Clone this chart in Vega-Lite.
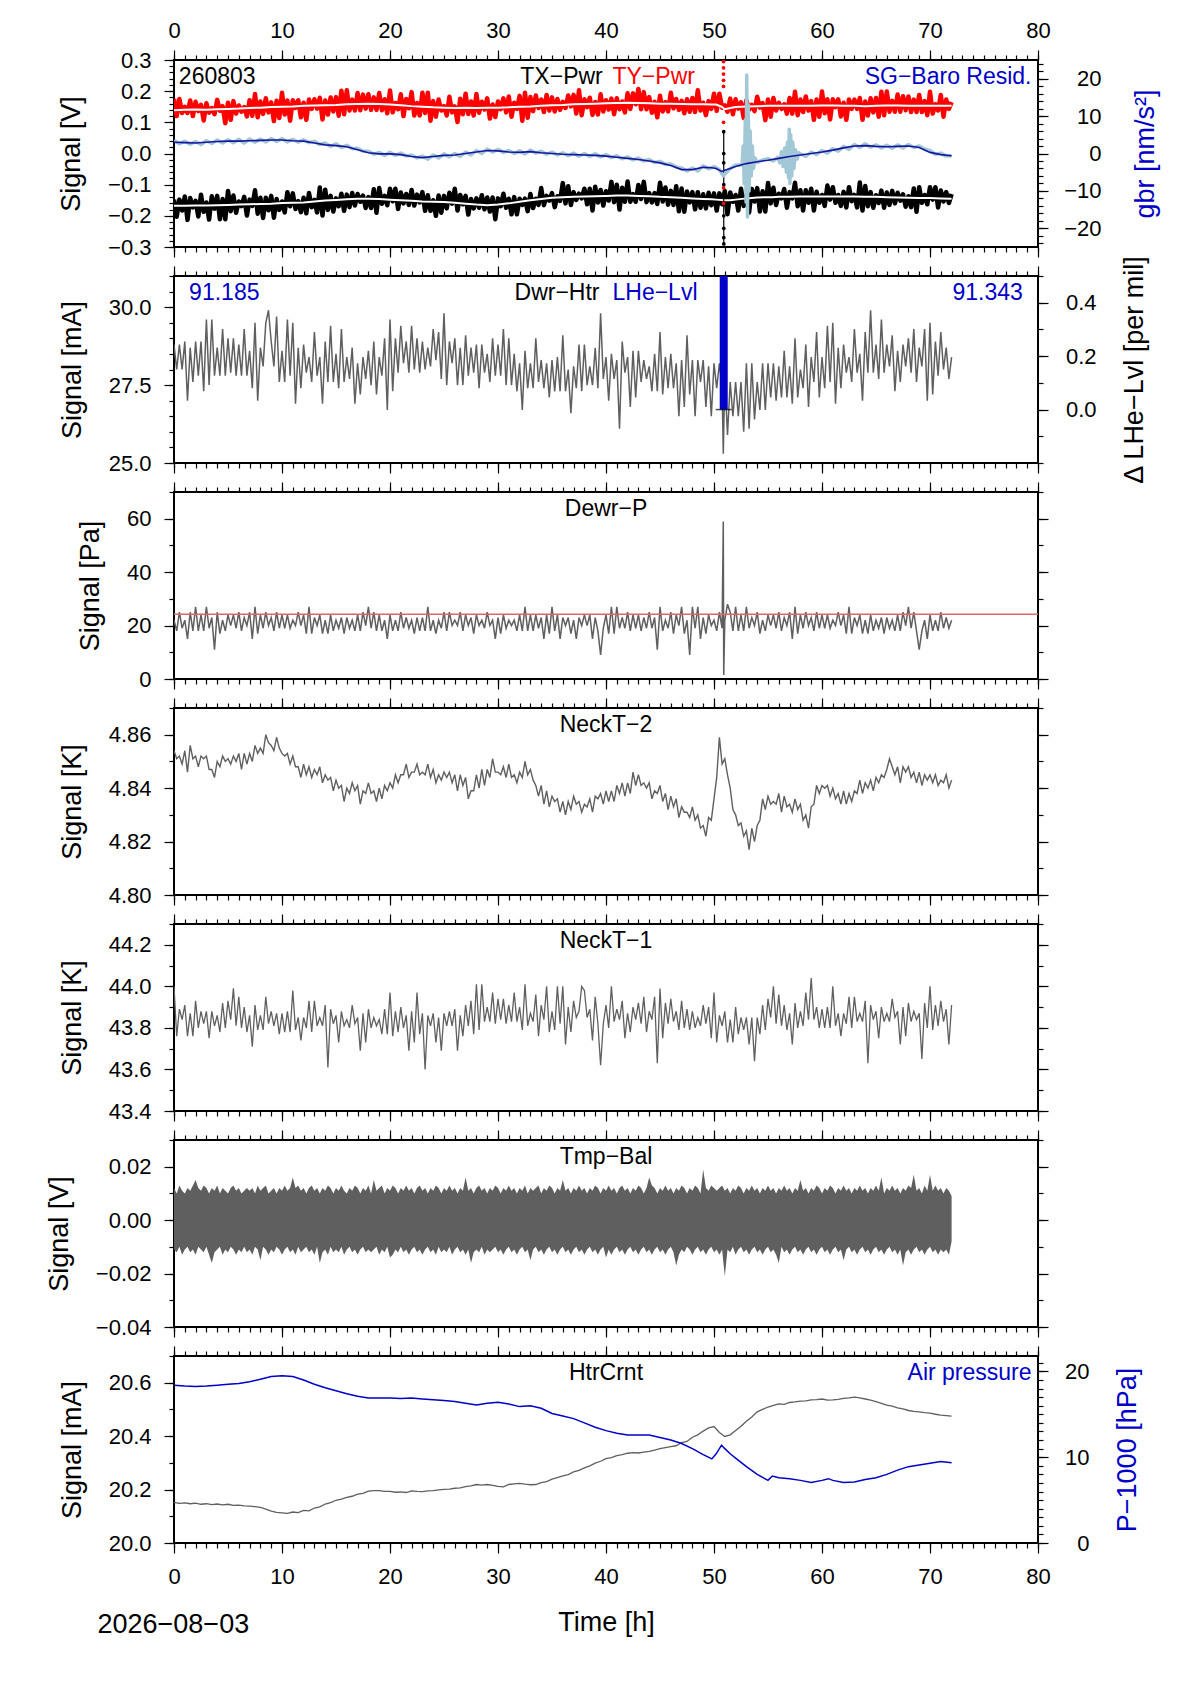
{
"$schema":"https://vega.github.io/schema/vega-lite/v6.json",
"padding":{"left":44,"top":18,"right":5,"bottom":5},
"spacing":29,
"bounds":"flush",
"datasets":{
"n":[
{"t":0,"ty":0.175,"tx":-0.148,"dh":28.8,"dp":22,"n1":44.0,"n2":4.854,"sg":3.5,"hc":20.152,"lo":-0.011,"hi":0.012},
{"t":0.25,"ty":0.12,"tx":-0.203,"dh":28.0,"dp":18,"n1":43.76,"n2":4.851,"lo":-0.012,"hi":0.01},
{"t":0.5,"ty":0.175,"tx":-0.148,"dh":28.8,"dp":25,"n1":43.89,"n2":4.852,"sg":2.6,"hc":20.148,"lo":-0.01,"hi":0.013},
{"t":0.75,"ty":0.13,"tx":-0.183,"dh":28.0,"dp":19,"n1":43.84,"n2":4.849,"lo":-0.013,"hi":0.011},
{"t":1,"ty":0.15,"tx":-0.138,"dh":28.9,"dp":22,"n1":43.91,"n2":4.854,"sg":3.3,"hc":20.15,"lo":-0.011,"hi":0.01},
{"t":1.25,"ty":0.13,"tx":-0.213,"dh":27.0,"dp":15,"n1":43.76,"n2":4.846,"lo":-0.01,"hi":0.012},
{"t":1.5,"ty":0.17,"tx":-0.143,"dh":28.7,"dp":25,"n1":43.87,"n2":4.856,"sg":2.5,"hc":20.147,"lo":-0.012,"hi":0.011},
{"t":1.75,"ty":0.12,"tx":-0.173,"dh":27.6,"dp":18,"n1":43.76,"n2":4.851,"lo":-0.011,"hi":0.013},
{"t":2,"ty":0.166,"tx":-0.152,"dh":28.9,"dp":27,"n1":43.93,"n2":4.852,"sg":3.2,"hc":20.149,"lo":-0.013,"hi":0.015},
{"t":2.25,"ty":0.136,"tx":-0.202,"dh":27.8,"dp":18,"n1":43.8,"n2":4.848,"lo":-0.01,"hi":0.012},
{"t":2.5,"ty":0.156,"tx":-0.132,"dh":28.9,"dp":24,"n1":43.88,"n2":4.852,"sg":2.4,"hc":20.145,"lo":-0.011,"hi":0.011},
{"t":2.75,"ty":0.106,"tx":-0.187,"dh":27.3,"dp":18,"n1":43.82,"n2":4.851,"lo":-0.012,"hi":0.013},
{"t":3,"ty":0.161,"tx":-0.157,"dh":29.6,"dp":27,"n1":43.88,"n2":4.852,"sg":3.4,"hc":20.147,"lo":-0.01,"hi":0.012},
{"t":3.25,"ty":0.131,"tx":-0.212,"dh":27.5,"dp":19,"n1":43.75,"n2":4.847,"lo":-0.013,"hi":0.01},
{"t":3.5,"ty":0.146,"tx":-0.137,"dh":29.6,"dp":23,"n1":43.88,"n2":4.847,"sg":2.7,"hc":20.144,"lo":-0.016,"hi":0.012},
{"t":3.75,"ty":0.126,"tx":-0.177,"dh":27.8,"dp":11,"n1":43.81,"n2":4.844,"lo":-0.012,"hi":0.011},
{"t":4,"ty":0.172,"tx":-0.136,"dh":28.7,"dp":25,"n1":43.86,"n2":4.85,"sg":3.6,"hc":20.146,"lo":-0.011,"hi":0.013},
{"t":4.25,"ty":0.137,"tx":-0.211,"dh":27.8,"dp":17,"n1":43.78,"n2":4.848,"lo":-0.01,"hi":0.01},
{"t":4.5,"ty":0.152,"tx":-0.146,"dh":29.3,"dp":22,"n1":43.92,"n2":4.852,"sg":2.8,"hc":20.143,"lo":-0.013,"hi":0.012},
{"t":4.75,"ty":0.097,"tx":-0.211,"dh":27.8,"dp":18,"n1":43.8,"n2":4.85,"lo":-0.011,"hi":0.011},
{"t":5,"ty":0.163,"tx":-0.12,"dh":29.0,"dp":24,"n1":43.93,"n2":4.851,"sg":3.7,"hc":20.145,"lo":-0.012,"hi":0.01},
{"t":5.25,"ty":0.108,"tx":-0.185,"dh":27.9,"dp":20,"n1":43.84,"n2":4.849,"lo":-0.01,"hi":0.012},
{"t":5.5,"ty":0.168,"tx":-0.135,"dh":29.0,"dp":24,"n1":43.99,"n2":4.852,"sg":2.9,"hc":20.141,"lo":-0.011,"hi":0.013},
{"t":5.75,"ty":0.128,"tx":-0.19,"dh":27.8,"dp":19,"n1":43.81,"n2":4.85,"lo":-0.013,"hi":0.011},
{"t":6,"ty":0.154,"tx":-0.154,"dh":28.8,"dp":25,"n1":43.95,"n2":4.853,"sg":3.8,"hc":20.142,"lo":-0.011,"hi":0.012},
{"t":6.25,"ty":0.134,"tx":-0.169,"dh":27.8,"dp":18,"n1":43.8,"n2":4.847,"lo":-0.012,"hi":0.01},
{"t":6.5,"ty":0.149,"tx":-0.139,"dh":29.3,"dp":23,"n1":43.9,"n2":4.853,"sg":2.8,"hc":20.139,"lo":-0.01,"hi":0.011},
{"t":6.75,"ty":0.119,"tx":-0.199,"dh":27.8,"dp":20,"n1":43.78,"n2":4.849,"lo":-0.012,"hi":0.012},
{"t":7,"ty":0.171,"tx":-0.148,"dh":28.6,"dp":25,"n1":43.86,"n2":4.853,"sg":3.9,"hc":20.138,"lo":-0.011,"hi":0.011},
{"t":7.25,"ty":0.121,"tx":-0.168,"dh":27.4,"dp":15,"n1":43.71,"n2":4.85,"lo":-0.013,"hi":0.012},
{"t":7.5,"ty":0.191,"tx":-0.118,"dh":29.5,"dp":27,"n1":43.91,"n2":4.856,"sg":3.0,"hc":20.136,"lo":-0.01,"hi":0.01},
{"t":7.75,"ty":0.116,"tx":-0.193,"dh":27.0,"dp":17,"n1":43.79,"n2":4.853,"lo":-0.011,"hi":0.013},
{"t":8,"ty":0.167,"tx":-0.142,"dh":28.7,"dp":24,"n1":43.86,"n2":4.855,"sg":3.9,"hc":20.133,"lo":-0.015,"hi":0.011},
{"t":8.25,"ty":0.127,"tx":-0.207,"dh":28.1,"dp":19,"n1":43.79,"n2":4.853,"lo":-0.01,"hi":0.012},
{"t":8.5,"ty":0.177,"tx":-0.142,"dh":29.5,"dp":25,"n1":43.95,"n2":4.86,"sg":3.1,"hc":20.127,"lo":-0.011,"hi":0.013},
{"t":8.75,"ty":0.132,"tx":-0.182,"dh":29.9,"dp":20,"n1":43.82,"n2":4.857,"lo":-0.013,"hi":0.01},
{"t":9,"ty":0.164,"tx":-0.136,"dh":28.9,"dp":23,"n1":43.88,"n2":4.856,"sg":4.0,"hc":20.119,"lo":-0.011,"hi":0.011},
{"t":9.25,"ty":0.104,"tx":-0.206,"dh":28.1,"dp":18,"n1":43.81,"n2":4.854,"lo":-0.012,"hi":0.012},
{"t":9.5,"ty":0.169,"tx":-0.146,"dh":29.7,"dp":25,"n1":43.87,"n2":4.859,"sg":3.2,"hc":20.115,"lo":-0.01,"hi":0.01},
{"t":9.75,"ty":0.114,"tx":-0.181,"dh":27.6,"dp":19,"n1":43.77,"n2":4.855,"lo":-0.011,"hi":0.012},
{"t":10,"ty":0.195,"tx":-0.154,"dh":28.6,"dp":24,"n1":43.87,"n2":4.853,"sg":4.0,"hc":20.113,"lo":-0.013,"hi":0.011},
{"t":10.25,"ty":0.125,"tx":-0.189,"dh":27.6,"dp":19,"n1":43.78,"n2":4.852,"lo":-0.011,"hi":0.013},
{"t":10.5,"ty":0.17,"tx":-0.124,"dh":29.6,"dp":24,"n1":43.88,"n2":4.853,"sg":3.1,"hc":20.111,"lo":-0.01,"hi":0.011},
{"t":10.75,"ty":0.105,"tx":-0.169,"dh":27.8,"dp":19,"n1":43.78,"n2":4.849,"lo":-0.012,"hi":0.012},
{"t":11,"ty":0.171,"tx":-0.128,"dh":29.5,"dp":22,"n1":43.98,"n2":4.852,"sg":3.8,"hc":20.116,"lo":-0.011,"hi":0.016},
{"t":11.25,"ty":0.146,"tx":-0.178,"dh":26.9,"dp":20,"n1":43.79,"n2":4.848,"lo":-0.013,"hi":0.012},
{"t":11.5,"ty":0.171,"tx":-0.153,"dh":28.7,"dp":25,"n1":43.85,"n2":4.848,"sg":3.0,"hc":20.114,"lo":-0.01,"hi":0.013},
{"t":11.75,"ty":0.116,"tx":-0.188,"dh":27.4,"dp":20,"n1":43.74,"n2":4.844,"lo":-0.012,"hi":0.011},
{"t":12,"ty":0.163,"tx":-0.142,"dh":28.8,"dp":24,"n1":43.85,"n2":4.849,"sg":3.7,"hc":20.122,"lo":-0.011,"hi":0.012},
{"t":12.25,"ty":0.108,"tx":-0.192,"dh":27.9,"dp":17,"n1":43.8,"n2":4.845,"lo":-0.01,"hi":0.01},
{"t":12.5,"ty":0.173,"tx":-0.127,"dh":28.4,"dp":27,"n1":43.93,"n2":4.848,"sg":2.9,"hc":20.12,"lo":-0.012,"hi":0.012},
{"t":12.75,"ty":0.143,"tx":-0.172,"dh":27.6,"dp":17,"n1":43.78,"n2":4.844,"lo":-0.011,"hi":0.013},
{"t":13,"ty":0.174,"tx":-0.149,"dh":29.2,"dp":23,"n1":43.93,"n2":4.847,"sg":3.3,"hc":20.131,"lo":-0.013,"hi":0.011},
{"t":13.25,"ty":0.144,"tx":-0.189,"dh":27.8,"dp":20,"n1":43.81,"n2":4.845,"lo":-0.01,"hi":0.012},
{"t":13.5,"ty":0.179,"tx":-0.109,"dh":28.4,"dp":24,"n1":43.85,"n2":4.848,"sg":2.4,"hc":20.135,"lo":-0.016,"hi":0.01},
{"t":13.75,"ty":0.109,"tx":-0.199,"dh":26.9,"dp":17,"n1":43.81,"n2":4.842,"lo":-0.012,"hi":0.012},
{"t":14,"ty":0.17,"tx":-0.116,"dh":28.9,"dp":22,"n1":43.91,"n2":4.845,"sg":2.8,"hc":20.146,"lo":-0.011,"hi":0.011},
{"t":14.25,"ty":0.125,"tx":-0.181,"dh":27.6,"dp":17,"n1":43.61,"n2":4.843,"lo":-0.013,"hi":0.013},
{"t":14.5,"ty":0.18,"tx":-0.136,"dh":29.4,"dp":24,"n1":43.89,"n2":4.844,"sg":1.9,"hc":20.151,"lo":-0.01,"hi":0.012},
{"t":14.75,"ty":0.135,"tx":-0.186,"dh":27.6,"dp":18,"n1":43.82,"n2":4.839,"lo":-0.012,"hi":0.01},
{"t":15,"ty":0.181,"tx":-0.144,"dh":28.5,"dp":22,"n1":43.86,"n2":4.843,"sg":2.6,"hc":20.16,"lo":-0.011,"hi":0.012},
{"t":15.25,"ty":0.121,"tx":-0.169,"dh":27.4,"dp":19,"n1":43.73,"n2":4.84,"lo":-0.012,"hi":0.011},
{"t":15.5,"ty":0.201,"tx":-0.129,"dh":29.3,"dp":23,"n1":43.88,"n2":4.841,"sg":1.6,"hc":20.164,"lo":-0.01,"hi":0.013},
{"t":15.75,"ty":0.126,"tx":-0.184,"dh":27.6,"dp":17,"n1":43.81,"n2":4.835,"lo":-0.013,"hi":0.011},
{"t":16,"ty":0.203,"tx":-0.132,"dh":28.4,"dp":23,"n1":43.84,"n2":4.84,"sg":2.2,"hc":20.171,"lo":-0.011,"hi":0.01},
{"t":16.25,"ty":0.138,"tx":-0.172,"dh":27.7,"dp":19,"n1":43.8,"n2":4.838,"lo":-0.01,"hi":0.012},
{"t":16.5,"ty":0.173,"tx":-0.127,"dh":28.7,"dp":22,"n1":43.91,"n2":4.842,"sg":1.3,"hc":20.175,"lo":-0.012,"hi":0.011},
{"t":16.75,"ty":0.138,"tx":-0.167,"dh":26.9,"dp":18,"n1":43.82,"n2":4.839,"lo":-0.011,"hi":0.013},
{"t":17,"ty":0.194,"tx":-0.13,"dh":28.2,"dp":24,"n1":43.85,"n2":4.841,"sg":1.4,"hc":20.183,"lo":-0.013,"hi":0.012},
{"t":17.25,"ty":0.139,"tx":-0.155,"dh":27.2,"dp":18,"n1":43.69,"n2":4.834,"lo":-0.011,"hi":0.01},
{"t":17.5,"ty":0.189,"tx":-0.135,"dh":28.4,"dp":25,"n1":43.87,"n2":4.839,"sg":0.6,"hc":20.186,"lo":-0.01,"hi":0.012},
{"t":17.75,"ty":0.144,"tx":-0.175,"dh":27.7,"dp":20,"n1":43.73,"n2":4.838,"lo":-0.012,"hi":0.011},
{"t":18,"ty":0.19,"tx":-0.14,"dh":28.6,"dp":27,"n1":43.89,"n2":4.842,"sg":0.6,"hc":20.194,"lo":-0.011,"hi":0.013},
{"t":18.25,"ty":0.14,"tx":-0.175,"dh":27.5,"dp":19,"n1":43.8,"n2":4.838,"lo":-0.012,"hi":0.01},
{"t":18.5,"ty":0.18,"tx":-0.115,"dh":28.9,"dp":25,"n1":43.85,"n2":4.839,"sg":-0.2,"hc":20.196,"lo":-0.011,"hi":0.015},
{"t":18.75,"ty":0.14,"tx":-0.19,"dh":27.2,"dp":18,"n1":43.81,"n2":4.835,"lo":-0.01,"hi":0.011},
{"t":19,"ty":0.194,"tx":-0.111,"dh":28.4,"dp":24,"n1":43.84,"n2":4.84,"sg":0.3,"hc":20.196,"lo":-0.013,"hi":0.012},
{"t":19.25,"ty":0.139,"tx":-0.161,"dh":27.8,"dp":18,"n1":43.77,"n2":4.836,"lo":-0.011,"hi":0.013},
{"t":19.5,"ty":0.174,"tx":-0.136,"dh":29.0,"dp":22,"n1":43.89,"n2":4.841,"sg":-0.5,"hc":20.193,"lo":-0.012,"hi":0.01},
{"t":19.75,"ty":0.129,"tx":-0.166,"dh":26.7,"dp":15,"n1":43.77,"n2":4.839,"lo":-0.01,"hi":0.012},
{"t":20,"ty":0.202,"tx":-0.113,"dh":29.6,"dp":24,"n1":43.97,"n2":4.842,"sg":0.3,"hc":20.193,"lo":-0.014,"hi":0.011},
{"t":20.25,"ty":0.132,"tx":-0.153,"dh":27.3,"dp":18,"n1":43.76,"n2":4.84,"lo":-0.013,"hi":0.013},
{"t":20.5,"ty":0.162,"tx":-0.113,"dh":29.0,"dp":22,"n1":43.88,"n2":4.845,"sg":-0.5,"hc":20.19,"lo":-0.011,"hi":0.012},
{"t":20.75,"ty":0.142,"tx":-0.178,"dh":27.9,"dp":18,"n1":43.78,"n2":4.842,"lo":-0.012,"hi":0.01},
{"t":21,"ty":0.19,"tx":-0.125,"dh":29.4,"dp":25,"n1":43.9,"n2":4.845,"sg":0.1,"hc":20.191,"lo":-0.01,"hi":0.012},
{"t":21.25,"ty":0.12,"tx":-0.16,"dh":28.2,"dp":19,"n1":43.8,"n2":4.845,"lo":-0.012,"hi":0.011},
{"t":21.5,"ty":0.175,"tx":-0.13,"dh":28.9,"dp":23,"n1":43.86,"n2":4.849,"sg":-0.7,"hc":20.189,"lo":-0.011,"hi":0.013},
{"t":21.75,"ty":0.145,"tx":-0.165,"dh":27.9,"dp":19,"n1":43.69,"n2":4.844,"lo":-0.013,"hi":0.011},
{"t":22,"ty":0.197,"tx":-0.117,"dh":29.4,"dp":22,"n1":43.88,"n2":4.846,"sg":-0.4,"hc":20.195,"lo":-0.011,"hi":0.012},
{"t":22.25,"ty":0.122,"tx":-0.167,"dh":28.0,"dp":17,"n1":43.73,"n2":4.846,"lo":-0.01,"hi":0.01},
{"t":22.5,"ty":0.162,"tx":-0.132,"dh":29.0,"dp":23,"n1":43.97,"n2":4.849,"sg":-1.2,"hc":20.193,"lo":-0.012,"hi":0.012},
{"t":22.75,"ty":0.122,"tx":-0.157,"dh":27.9,"dp":18,"n1":43.77,"n2":4.845,"lo":-0.011,"hi":0.013},
{"t":23,"ty":0.195,"tx":-0.124,"dh":28.9,"dp":23,"n1":43.87,"n2":4.846,"sg":-0.7,"hc":20.192,"lo":-0.013,"hi":0.011},
{"t":23.25,"ty":0.13,"tx":-0.184,"dh":28.0,"dp":18,"n1":43.6,"n2":4.845,"lo":-0.011,"hi":0.012},
{"t":23.5,"ty":0.195,"tx":-0.134,"dh":28.7,"dp":27,"n1":43.86,"n2":4.849,"sg":-1.5,"hc":20.195,"lo":-0.01,"hi":0.01},
{"t":23.75,"ty":0.105,"tx":-0.184,"dh":28.1,"dp":18,"n1":43.81,"n2":4.844,"lo":-0.012,"hi":0.012},
{"t":24,"ty":0.168,"tx":-0.15,"dh":29.3,"dp":22,"n1":43.87,"n2":4.847,"sg":-0.4,"hc":20.196,"lo":-0.011,"hi":0.011},
{"t":24.25,"ty":0.118,"tx":-0.2,"dh":28.3,"dp":17,"n1":43.73,"n2":4.842,"lo":-0.013,"hi":0.013},
{"t":24.5,"ty":0.173,"tx":-0.135,"dh":29.2,"dp":22,"n1":43.85,"n2":4.845,"sg":-1.2,"hc":20.199,"lo":-0.01,"hi":0.012},
{"t":24.75,"ty":0.138,"tx":-0.19,"dh":27.7,"dp":19,"n1":43.69,"n2":4.843,"lo":-0.012,"hi":0.01},
{"t":25,"ty":0.152,"tx":-0.136,"dh":29.8,"dp":25,"n1":43.87,"n2":4.846,"sg":-0.1,"hc":20.201,"lo":-0.011,"hi":0.012},
{"t":25.25,"ty":0.122,"tx":-0.176,"dh":27.5,"dp":18,"n1":43.81,"n2":4.844,"lo":-0.012,"hi":0.011},
{"t":25.5,"ty":0.182,"tx":-0.126,"dh":28.9,"dp":25,"n1":43.88,"n2":4.846,"sg":-0.9,"hc":20.202,"lo":-0.01,"hi":0.013},
{"t":25.75,"ty":0.132,"tx":-0.161,"dh":28.2,"dp":20,"n1":43.81,"n2":4.842,"lo":-0.013,"hi":0.011},
{"t":26,"ty":0.151,"tx":-0.113,"dh":29.0,"dp":22,"n1":43.89,"n2":4.845,"sg":0.0,"hc":20.205,"lo":-0.011,"hi":0.012},
{"t":26.25,"ty":0.101,"tx":-0.183,"dh":27.5,"dp":20,"n1":43.69,"n2":4.839,"lo":-0.01,"hi":0.01},
{"t":26.5,"ty":0.176,"tx":-0.133,"dh":28.7,"dp":25,"n1":43.86,"n2":4.845,"sg":-0.8,"hc":20.206,"lo":-0.012,"hi":0.012},
{"t":26.75,"ty":0.126,"tx":-0.163,"dh":27.5,"dp":18,"n1":43.76,"n2":4.841,"lo":-0.011,"hi":0.011},
{"t":27,"ty":0.192,"tx":-0.136,"dh":29.1,"dp":24,"n1":43.91,"n2":4.844,"sg":0.4,"hc":20.211,"lo":-0.013,"hi":0.016},
{"t":27.25,"ty":0.127,"tx":-0.196,"dh":27.8,"dp":20,"n1":43.81,"n2":4.836,"lo":-0.011,"hi":0.011},
{"t":27.5,"ty":0.167,"tx":-0.146,"dh":28.7,"dp":23,"n1":43.93,"n2":4.839,"sg":-0.4,"hc":20.214,"lo":-0.016,"hi":0.012},
{"t":27.75,"ty":0.122,"tx":-0.176,"dh":27.9,"dp":17,"n1":43.77,"n2":4.839,"lo":-0.012,"hi":0.01},
{"t":28,"ty":0.191,"tx":-0.144,"dh":28.8,"dp":24,"n1":44.01,"n2":4.845,"sg":0.8,"hc":20.219,"lo":-0.011,"hi":0.012},
{"t":28.25,"ty":0.131,"tx":-0.174,"dh":27.4,"dp":20,"n1":43.79,"n2":4.84,"lo":-0.012,"hi":0.013},
{"t":28.5,"ty":0.166,"tx":-0.134,"dh":28.8,"dp":22,"n1":44.01,"n2":4.847,"sg":0.0,"hc":20.217,"lo":-0.01,"hi":0.011},
{"t":28.75,"ty":0.141,"tx":-0.179,"dh":27.9,"dp":19,"n1":43.83,"n2":4.841,"lo":-0.013,"hi":0.012},
{"t":29,"ty":0.177,"tx":-0.141,"dh":28.5,"dp":25,"n1":43.9,"n2":4.847,"sg":1.2,"hc":20.219,"lo":-0.011,"hi":0.01},
{"t":29.25,"ty":0.112,"tx":-0.186,"dh":27.6,"dp":20,"n1":43.83,"n2":4.844,"lo":-0.012,"hi":0.012},
{"t":29.5,"ty":0.157,"tx":-0.141,"dh":29.0,"dp":22,"n1":43.97,"n2":4.851,"sg":0.4,"hc":20.216,"lo":-0.011,"hi":0.011},
{"t":29.75,"ty":0.117,"tx":-0.211,"dh":27.8,"dp":15,"n1":43.82,"n2":4.846,"lo":-0.01,"hi":0.013},
{"t":30,"ty":0.167,"tx":-0.144,"dh":28.8,"dp":23,"n1":43.94,"n2":4.846,"sg":1.1,"hc":20.212,"lo":-0.012,"hi":0.012},
{"t":30.25,"ty":0.142,"tx":-0.169,"dh":27.8,"dp":17,"n1":43.84,"n2":4.845,"lo":-0.011,"hi":0.01},
{"t":30.5,"ty":0.177,"tx":-0.129,"dh":29.3,"dp":24,"n1":43.94,"n2":4.848,"sg":0.3,"hc":20.21,"lo":-0.013,"hi":0.012},
{"t":30.75,"ty":0.132,"tx":-0.174,"dh":27.5,"dp":19,"n1":43.82,"n2":4.844,"lo":-0.011,"hi":0.011},
{"t":31,"ty":0.183,"tx":-0.145,"dh":29.0,"dp":22,"n1":43.91,"n2":4.849,"sg":0.8,"hc":20.219,"lo":-0.01,"hi":0.013},
{"t":31.25,"ty":0.118,"tx":-0.195,"dh":27.5,"dp":20,"n1":43.83,"n2":4.844,"lo":-0.012,"hi":0.011},
{"t":31.5,"ty":0.163,"tx":-0.14,"dh":28.5,"dp":22,"n1":43.97,"n2":4.845,"sg":0.0,"hc":20.221,"lo":-0.011,"hi":0.012},
{"t":31.75,"ty":0.143,"tx":-0.195,"dh":27.3,"dp":18,"n1":43.83,"n2":4.842,"lo":-0.013,"hi":0.01},
{"t":32,"ty":0.185,"tx":-0.145,"dh":28.2,"dp":24,"n1":43.9,"n2":4.846,"sg":0.7,"hc":20.223,"lo":-0.011,"hi":0.012},
{"t":32.25,"ty":0.105,"tx":-0.165,"dh":26.7,"dp":18,"n1":43.79,"n2":4.844,"lo":-0.01,"hi":0.011},
{"t":32.5,"ty":0.195,"tx":-0.145,"dh":28.6,"dp":27,"n1":44.01,"n2":4.85,"sg":-0.1,"hc":20.22,"lo":-0.012,"hi":0.013},
{"t":32.75,"ty":0.115,"tx":-0.185,"dh":27.4,"dp":18,"n1":43.81,"n2":4.845,"lo":-0.011,"hi":0.01},
{"t":33,"ty":0.181,"tx":-0.13,"dh":28.2,"dp":24,"n1":43.87,"n2":4.847,"sg":0.9,"hc":20.218,"lo":-0.015,"hi":0.012},
{"t":33.25,"ty":0.136,"tx":-0.175,"dh":27.4,"dp":18,"n1":43.83,"n2":4.843,"lo":-0.011,"hi":0.011},
{"t":33.5,"ty":0.186,"tx":-0.145,"dh":29.0,"dp":24,"n1":43.96,"n2":4.841,"sg":0.1,"hc":20.219,"lo":-0.01,"hi":0.012},
{"t":33.75,"ty":0.146,"tx":-0.165,"dh":27.6,"dp":19,"n1":43.76,"n2":4.837,"lo":-0.012,"hi":0.013},
{"t":34,"ty":0.173,"tx":-0.111,"dh":28.3,"dp":23,"n1":43.91,"n2":4.841,"sg":0.6,"hc":20.226,"lo":-0.011,"hi":0.01},
{"t":34.25,"ty":0.133,"tx":-0.166,"dh":27.4,"dp":15,"n1":43.84,"n2":4.834,"lo":-0.013,"hi":0.012},
{"t":34.5,"ty":0.188,"tx":-0.136,"dh":28.2,"dp":24,"n1":44.0,"n2":4.839,"sg":-0.2,"hc":20.23,"lo":-0.011,"hi":0.011},
{"t":34.75,"ty":0.138,"tx":-0.151,"dh":27.1,"dp":17,"n1":43.78,"n2":4.833,"lo":-0.01,"hi":0.013},
{"t":35,"ty":0.18,"tx":-0.127,"dh":28.3,"dp":27,"n1":43.88,"n2":4.837,"sg":0.4,"hc":20.239,"lo":-0.012,"hi":0.012},
{"t":35.25,"ty":0.135,"tx":-0.172,"dh":27.3,"dp":18,"n1":43.79,"n2":4.835,"lo":-0.011,"hi":0.01},
{"t":35.5,"ty":0.175,"tx":-0.137,"dh":28.4,"dp":24,"n1":44.0,"n2":4.836,"sg":-0.4,"hc":20.245,"lo":-0.013,"hi":0.012},
{"t":35.75,"ty":0.14,"tx":-0.152,"dh":27.3,"dp":15,"n1":43.82,"n2":4.831,"lo":-0.011,"hi":0.011},
{"t":36,"ty":0.166,"tx":-0.095,"dh":29.1,"dp":23,"n1":44.0,"n2":4.835,"sg":0.2,"hc":20.251,"lo":-0.01,"hi":0.015},
{"t":36.25,"ty":0.146,"tx":-0.16,"dh":27.3,"dp":20,"n1":43.72,"n2":4.83,"lo":-0.012,"hi":0.011},
{"t":36.5,"ty":0.186,"tx":-0.105,"dh":28.0,"dp":23,"n1":43.9,"n2":4.835,"sg":-0.6,"hc":20.256,"lo":-0.011,"hi":0.012},
{"t":36.75,"ty":0.151,"tx":-0.165,"dh":26.6,"dp":17,"n1":43.78,"n2":4.832,"lo":-0.013,"hi":0.01},
{"t":37,"ty":0.188,"tx":-0.124,"dh":28.1,"dp":22,"n1":43.93,"n2":4.837,"sg":0.1,"hc":20.266,"lo":-0.011,"hi":0.012},
{"t":37.25,"ty":0.128,"tx":-0.149,"dh":27.4,"dp":15,"n1":43.85,"n2":4.834,"lo":-0.01,"hi":0.011},
{"t":37.5,"ty":0.203,"tx":-0.129,"dh":28.8,"dp":23,"n1":43.88,"n2":4.835,"sg":-0.7,"hc":20.272,"lo":-0.012,"hi":0.013},
{"t":37.75,"ty":0.123,"tx":-0.144,"dh":27.3,"dp":20,"n1":44.0,"n2":4.831,"lo":-0.011,"hi":0.011},
{"t":38,"ty":0.174,"tx":-0.113,"dh":28.8,"dp":24,"n1":43.98,"n2":4.834,"sg":0.0,"hc":20.281,"lo":-0.013,"hi":0.012},
{"t":38.25,"ty":0.149,"tx":-0.163,"dh":27.5,"dp":20,"n1":43.85,"n2":4.833,"lo":-0.011,"hi":0.01},
{"t":38.5,"ty":0.179,"tx":-0.113,"dh":28.1,"dp":24,"n1":43.89,"n2":4.836,"sg":-0.8,"hc":20.289,"lo":-0.01,"hi":0.012},
{"t":38.75,"ty":0.124,"tx":-0.183,"dh":27.5,"dp":15,"n1":43.74,"n2":4.831,"lo":-0.012,"hi":0.011},
{"t":39,"ty":0.165,"tx":-0.107,"dh":28.7,"dp":23,"n1":43.95,"n2":4.837,"sg":-0.1,"hc":20.299,"lo":-0.011,"hi":0.013},
{"t":39.25,"ty":0.125,"tx":-0.157,"dh":27.4,"dp":18,"n1":43.82,"n2":4.836,"lo":-0.013,"hi":0.012},
{"t":39.5,"ty":0.19,"tx":-0.117,"dh":29.8,"dp":9,"n1":43.62,"n2":4.838,"sg":-0.9,"hc":20.306,"lo":-0.011,"hi":0.01},
{"t":39.75,"ty":0.135,"tx":-0.167,"dh":27.7,"dp":19,"n1":43.82,"n2":4.834,"lo":-0.01,"hi":0.012},
{"t":40,"ty":0.171,"tx":-0.121,"dh":28.4,"dp":24,"n1":43.91,"n2":4.839,"sg":-0.3,"hc":20.316,"lo":-0.014,"hi":0.011},
{"t":40.25,"ty":0.141,"tx":-0.151,"dh":27.0,"dp":17,"n1":43.8,"n2":4.835,"lo":-0.011,"hi":0.013},
{"t":40.5,"ty":0.176,"tx":-0.091,"dh":28.5,"dp":27,"n1":44.0,"n2":4.839,"sg":-1.1,"hc":20.32,"lo":-0.013,"hi":0.011},
{"t":40.75,"ty":0.126,"tx":-0.156,"dh":27.7,"dp":17,"n1":43.83,"n2":4.835,"lo":-0.011,"hi":0.012},
{"t":41,"ty":0.177,"tx":-0.1,"dh":28.3,"dp":27,"n1":43.89,"n2":4.841,"sg":-0.6,"hc":20.327,"lo":-0.01,"hi":0.01},
{"t":41.25,"ty":0.142,"tx":-0.18,"dh":26.1,"dp":19,"n1":43.84,"n2":4.838,"lo":-0.012,"hi":0.012},
{"t":41.5,"ty":0.167,"tx":-0.11,"dh":28.9,"dp":23,"n1":43.93,"n2":4.842,"sg":-1.4,"hc":20.331,"lo":-0.011,"hi":0.013},
{"t":41.75,"ty":0.132,"tx":-0.155,"dh":27.9,"dp":19,"n1":43.75,"n2":4.837,"lo":-0.013,"hi":0.011},
{"t":42,"ty":0.193,"tx":-0.09,"dh":28.4,"dp":25,"n1":43.87,"n2":4.842,"sg":-0.9,"hc":20.336,"lo":-0.011,"hi":0.012},
{"t":42.25,"ty":0.143,"tx":-0.155,"dh":26.8,"dp":18,"n1":43.78,"n2":4.838,"lo":-0.01,"hi":0.01},
{"t":42.5,"ty":0.193,"tx":-0.13,"dh":28.6,"dp":24,"n1":43.9,"n2":4.846,"sg":-1.7,"hc":20.338,"lo":-0.012,"hi":0.012},
{"t":42.75,"ty":0.158,"tx":-0.155,"dh":27.1,"dp":19,"n1":43.84,"n2":4.841,"lo":-0.011,"hi":0.011},
{"t":43,"ty":0.207,"tx":-0.101,"dh":28.6,"dp":24,"n1":43.92,"n2":4.845,"sg":-1.2,"hc":20.337,"lo":-0.013,"hi":0.013},
{"t":43.25,"ty":0.142,"tx":-0.146,"dh":27.6,"dp":18,"n1":43.82,"n2":4.841,"lo":-0.011,"hi":0.012},
{"t":43.5,"ty":0.197,"tx":-0.091,"dh":28.3,"dp":23,"n1":43.95,"n2":4.842,"sg":-2.0,"hc":20.34,"lo":-0.01,"hi":0.01},
{"t":43.75,"ty":0.142,"tx":-0.156,"dh":27.7,"dp":19,"n1":43.78,"n2":4.84,"lo":-0.012,"hi":0.012},
{"t":44,"ty":0.181,"tx":-0.127,"dh":28.1,"dp":25,"n1":43.88,"n2":4.842,"sg":-1.6,"hc":20.343,"lo":-0.011,"hi":0.016},
{"t":44.25,"ty":0.131,"tx":-0.157,"dh":27.3,"dp":19,"n1":43.84,"n2":4.836,"lo":-0.013,"hi":0.013},
{"t":44.5,"ty":0.166,"tx":-0.127,"dh":28.5,"dp":23,"n1":43.95,"n2":4.839,"sg":-2.4,"hc":20.348,"lo":-0.011,"hi":0.012},
{"t":44.75,"ty":0.116,"tx":-0.162,"dh":27.3,"dp":11,"n1":43.63,"n2":4.838,"lo":-0.01,"hi":0.01},
{"t":45,"ty":0.185,"tx":-0.094,"dh":29.2,"dp":27,"n1":43.99,"n2":4.841,"sg":-2.1,"hc":20.353,"lo":-0.012,"hi":0.012},
{"t":45.25,"ty":0.135,"tx":-0.154,"dh":27.2,"dp":18,"n1":43.75,"n2":4.835,"lo":-0.011,"hi":0.011},
{"t":45.5,"ty":0.165,"tx":-0.109,"dh":28.4,"dp":22,"n1":43.92,"n2":4.838,"sg":-2.9,"hc":20.357,"lo":-0.013,"hi":0.013},
{"t":45.75,"ty":0.135,"tx":-0.164,"dh":27.4,"dp":19,"n1":43.82,"n2":4.832,"lo":-0.011,"hi":0.011},
{"t":46,"ty":0.195,"tx":-0.12,"dh":28.5,"dp":25,"n1":43.94,"n2":4.837,"sg":-2.8,"hc":20.361,"lo":-0.01,"hi":0.012},
{"t":46.25,"ty":0.145,"tx":-0.165,"dh":27.4,"dp":17,"n1":43.83,"n2":4.833,"lo":-0.012,"hi":0.01},
{"t":46.5,"ty":0.175,"tx":-0.105,"dh":28.2,"dp":24,"n1":43.88,"n2":4.836,"sg":-3.6,"hc":20.364,"lo":-0.017,"hi":0.012},
{"t":46.75,"ty":0.14,"tx":-0.185,"dh":26.5,"dp":20,"n1":43.79,"n2":4.829,"lo":-0.013,"hi":0.011},
{"t":47,"ty":0.169,"tx":-0.112,"dh":28.3,"dp":27,"n1":43.93,"n2":4.833,"sg":-3.9,"hc":20.376,"lo":-0.011,"hi":0.013},
{"t":47.25,"ty":0.129,"tx":-0.187,"dh":26.8,"dp":17,"n1":43.8,"n2":4.831,"lo":-0.012,"hi":0.012},
{"t":47.5,"ty":0.174,"tx":-0.122,"dh":29.1,"dp":22,"n1":43.89,"n2":4.831,"sg":-4.7,"hc":20.38,"lo":-0.01,"hi":0.01},
{"t":47.75,"ty":0.134,"tx":-0.157,"dh":27.2,"dp":9,"n1":43.79,"n2":4.829,"lo":-0.011,"hi":0.012},
{"t":48,"ty":0.178,"tx":-0.124,"dh":28.3,"dp":27,"n1":43.88,"n2":4.833,"sg":-3.9,"hc":20.396,"lo":-0.013,"hi":0.011},
{"t":48.25,"ty":0.133,"tx":-0.179,"dh":26.5,"dp":19,"n1":43.8,"n2":4.828,"lo":-0.011,"hi":0.013},
{"t":48.5,"ty":0.203,"tx":-0.124,"dh":28.3,"dp":27,"n1":43.85,"n2":4.83,"sg":-4.7,"hc":20.405,"lo":-0.01,"hi":0.012},
{"t":48.75,"ty":0.138,"tx":-0.174,"dh":27.6,"dp":15,"n1":43.81,"n2":4.825,"lo":-0.012,"hi":0.01},
{"t":49,"ty":0.163,"tx":-0.131,"dh":28.3,"dp":23,"n1":43.91,"n2":4.826,"sg":-3.3,"hc":20.419,"lo":-0.011,"hi":0.019},
{"t":49.25,"ty":0.123,"tx":-0.176,"dh":26.8,"dp":17,"n1":43.82,"n2":4.822,"lo":-0.013,"hi":0.012},
{"t":49.5,"ty":0.168,"tx":-0.126,"dh":28.1,"dp":24,"n1":43.9,"n2":4.829,"sg":-4.1,"hc":20.431,"lo":-0.011,"hi":0.011},
{"t":49.75,"ty":0.143,"tx":-0.166,"dh":26.5,"dp":20,"n1":43.75,"n2":4.828,"lo":-0.01,"hi":0.013},
{"t":50,"ty":0.192,"tx":-0.128,"dh":28.2,"dp":22,"n1":43.97,"n2":4.836,"sg":-3.5,"hc":20.436,"lo":-0.012,"hi":0.012},
{"t":50.25,"ty":0.137,"tx":-0.183,"dh":27.4,"dp":18,"n1":43.73,"n2":4.844,"lo":-0.011,"hi":0.011},
{"t":50.5,"ty":0.192,"tx":-0.128,"dh":28.2,"dp":25,"n1":43.86,"n2":4.859,"sg":-4.3,"hc":20.414,"lo":-0.013,"hi":0.012},
{"t":50.75,"ty":0.147,"tx":-0.163,"dh":27.4,"dp":19,"n1":43.81,"n2":4.849,"lo":-0.011,"hi":0.013},
{"t":50.86,"dh":25.3,"dp":59,"sg":-6},
{"t":50.9,"dp":1.5},
{"t":51,"ty":0.154,"tx":-0.12,"dh":27.8,"dp":22,"n1":43.88,"n2":4.851,"sg":-5.5,"hc":20.399,"lo":-0.021,"hi":0.011},
{"t":51.25,"ty":0.134,"tx":-0.195,"dh":25.9,"dp":28,"n1":43.73,"n2":4.845,"lo":-0.011,"hi":0.012},
{"t":51.5,"ty":0.176,"tx":-0.125,"dh":27.6,"dp":25,"n1":43.84,"n2":4.84,"sg":-4.0,"hc":20.405,"lo":-0.012,"hi":0.01},
{"t":51.75,"ty":0.126,"tx":-0.155,"dh":26.5,"dp":18,"n1":43.73,"n2":4.832,"lo":-0.01,"hi":0.012},
{"t":52,"ty":0.174,"tx":-0.133,"dh":27.6,"dp":27,"n1":43.9,"n2":4.83,"sg":-3.1,"hc":20.421,"lo":-0.013,"hi":0.011},
{"t":52.25,"ty":0.144,"tx":-0.183,"dh":26.5,"dp":18,"n1":43.77,"n2":4.826,"lo":-0.011,"hi":0.013},
{"t":52.5,"ty":0.164,"tx":-0.113,"dh":27.6,"dp":24,"n1":43.85,"n2":4.827,"hc":20.437,"lo":-0.01,"hi":0.012},
{"t":52.6,"sg":-3},{"t":52.7,"sg":2},{"t":52.8,"sg":-8},{"t":52.9,"sg":9},{"t":52.97,"sg":-13},
{"t":52.75,"ty":0.114,"tx":-0.168,"dh":26.0,"dp":18,"n1":43.79,"n2":4.822,"lo":-0.012,"hi":0.01},
{"t":53,"ty":0.171,"tx":-0.134,"dh":28.2,"dp":27,"n1":43.85,"n2":4.824,"hc":20.456,"lo":-0.011,"hi":0.012},
{"t":53.03,"sg":21},{"t":53.1,"sg":-17},{"t":53.17,"sg":13},{"t":53.25,"sg":-10},{"t":53.35,"sg":6},{"t":53.45,"sg":-6},{"t":53.55,"sg":2},{"t":53.65,"sg":-4},{"t":53.8,"sg":-1.2},
{"t":53.25,"ty":0.141,"tx":-0.189,"dh":26.1,"dp":19,"n1":43.72,"n2":4.817,"lo":-0.013,"hi":0.011},
{"t":53.5,"ty":0.156,"tx":-0.114,"dh":28.2,"dp":23,"n1":43.85,"n2":4.825,"hc":20.472,"lo":-0.011,"hi":0.013},
{"t":53.75,"ty":0.136,"tx":-0.154,"dh":26.4,"dp":20,"n1":43.64,"n2":4.82,"lo":-0.01,"hi":0.011},
{"t":54,"ty":0.182,"tx":-0.111,"dh":27.6,"dp":25,"n1":43.85,"n2":4.826,"sg":-2.4,"hc":20.491,"lo":-0.012,"hi":0.012},
{"t":54.25,"ty":0.147,"tx":-0.186,"dh":26.7,"dp":17,"n1":43.77,"n2":4.828,"lo":-0.011,"hi":0.01},
{"t":54.5,"ty":0.162,"tx":-0.121,"dh":28.2,"dp":22,"n1":43.91,"n2":4.836,"sg":-1.7,"hc":20.5,"lo":-0.013,"hi":0.012},
{"t":54.75,"ty":0.107,"tx":-0.186,"dh":26.7,"dp":18,"n1":43.79,"n2":4.832,"lo":-0.011,"hi":0.011},
{"t":55,"ty":0.173,"tx":-0.095,"dh":28.2,"dp":24,"n1":43.94,"n2":4.837,"sg":-1.4,"hc":20.509,"lo":-0.01,"hi":0.013},
{"t":55.25,"ty":0.118,"tx":-0.16,"dh":27.1,"dp":20,"n1":43.85,"n2":4.834,"lo":-0.012,"hi":0.011},
{"t":55.5,"ty":0.178,"tx":-0.11,"dh":28.2,"dp":24,"n1":44.0,"n2":4.835,"sg":-2.0,"hc":20.515,"lo":-0.011,"hi":0.012},
{"t":55.75,"ty":0.138,"tx":-0.165,"dh":27.0,"dp":19,"n1":43.82,"n2":4.834,"lo":-0.013,"hi":0.01},
{"t":55.9,"sg":-1.0},{"t":56.1,"sg":-2.5},{"t":56.25,"sg":0.5},{"t":56.4,"sg":-3.5},{"t":56.55,"sg":1.5},{"t":56.7,"sg":-5},{"t":56.8,"sg":3},{"t":56.9,"sg":-6.5},{"t":56.97,"sg":6.5},{"t":57.03,"sg":-8},{"t":57.1,"sg":5},{"t":57.2,"sg":-6},{"t":57.3,"sg":3},{"t":57.4,"sg":-4},{"t":57.55,"sg":1},{"t":57.7,"sg":-1.5},{"t":57.85,"sg":0.2},
{"t":56,"ty":0.163,"tx":-0.129,"dh":28.1,"dp":25,"n1":43.96,"n2":4.838,"hc":20.521,"lo":-0.016,"hi":0.012},
{"t":56.25,"ty":0.143,"tx":-0.144,"dh":27.1,"dp":18,"n1":43.81,"n2":4.831,"lo":-0.01,"hi":0.011},
{"t":56.5,"ty":0.158,"tx":-0.114,"dh":28.6,"dp":23,"n1":43.91,"n2":4.837,"hc":20.519,"lo":-0.012,"hi":0.013},
{"t":56.75,"ty":0.128,"tx":-0.174,"dh":27.1,"dp":20,"n1":43.79,"n2":4.833,"lo":-0.011,"hi":0.011},
{"t":57,"ty":0.178,"tx":-0.124,"dh":28.1,"dp":25,"n1":43.87,"n2":4.834,"hc":20.526,"lo":-0.013,"hi":0.012},
{"t":57.25,"ty":0.128,"tx":-0.144,"dh":26.9,"dp":15,"n1":43.72,"n2":4.831,"lo":-0.011,"hi":0.01},
{"t":57.5,"ty":0.198,"tx":-0.094,"dh":29.0,"dp":27,"n1":43.92,"n2":4.836,"hc":20.528,"lo":-0.01,"hi":0.012},
{"t":57.75,"ty":0.123,"tx":-0.169,"dh":27.1,"dp":17,"n1":43.8,"n2":4.832,"lo":-0.012,"hi":0.011},
{"t":58,"ty":0.173,"tx":-0.118,"dh":28.0,"dp":24,"n1":43.88,"n2":4.834,"sg":-0.1,"hc":20.531,"lo":-0.011,"hi":0.015},
{"t":58.25,"ty":0.133,"tx":-0.183,"dh":27.4,"dp":19,"n1":43.81,"n2":4.828,"lo":-0.013,"hi":0.011},
{"t":58.5,"ty":0.183,"tx":-0.118,"dh":28.8,"dp":25,"n1":43.97,"n2":4.83,"sg":-0.8,"hc":20.532,"lo":-0.011,"hi":0.012},
{"t":58.75,"ty":0.138,"tx":-0.158,"dh":26.8,"dp":20,"n1":43.84,"n2":4.825,"lo":-0.01,"hi":0.01},
{"t":59,"ty":0.168,"tx":-0.113,"dh":28.4,"dp":23,"n1":44.04,"n2":4.833,"sg":0.4,"hc":20.536,"lo":-0.012,"hi":0.012},
{"t":59.25,"ty":0.108,"tx":-0.183,"dh":27.6,"dp":18,"n1":43.84,"n2":4.834,"lo":-0.011,"hi":0.011},
{"t":59.5,"ty":0.173,"tx":-0.123,"dh":29.2,"dp":25,"n1":43.9,"n2":4.841,"sg":-0.3,"hc":20.537,"lo":-0.013,"hi":0.013},
{"t":59.75,"ty":0.118,"tx":-0.158,"dh":27.1,"dp":19,"n1":43.8,"n2":4.838,"lo":-0.011,"hi":0.012},
{"t":60,"ty":0.199,"tx":-0.133,"dh":28.4,"dp":24,"n1":43.89,"n2":4.841,"sg":0.8,"hc":20.539,"lo":-0.01,"hi":0.01},
{"t":60.25,"ty":0.129,"tx":-0.168,"dh":27.4,"dp":19,"n1":43.8,"n2":4.84,"lo":-0.012,"hi":0.012},
{"t":60.5,"ty":0.174,"tx":-0.103,"dh":29.4,"dp":24,"n1":43.9,"n2":4.841,"sg":0.1,"hc":20.535,"lo":-0.011,"hi":0.011},
{"t":60.75,"ty":0.109,"tx":-0.148,"dh":27.6,"dp":19,"n1":43.8,"n2":4.837,"lo":-0.013,"hi":0.013},
{"t":61,"ty":0.174,"tx":-0.108,"dh":29.5,"dp":22,"n1":44.0,"n2":4.84,"sg":1.3,"hc":20.536,"lo":-0.011,"hi":0.012},
{"t":61.25,"ty":0.149,"tx":-0.158,"dh":26.9,"dp":20,"n1":43.81,"n2":4.836,"lo":-0.01,"hi":0.01},
{"t":61.5,"ty":0.174,"tx":-0.133,"dh":28.7,"dp":25,"n1":43.87,"n2":4.838,"sg":0.6,"hc":20.538,"lo":-0.012,"hi":0.012},
{"t":61.75,"ty":0.119,"tx":-0.168,"dh":27.4,"dp":20,"n1":43.76,"n2":4.834,"lo":-0.011,"hi":0.011},
{"t":62,"ty":0.163,"tx":-0.123,"dh":28.8,"dp":24,"n1":43.87,"n2":4.839,"sg":1.9,"hc":20.541,"lo":-0.015,"hi":0.013},
{"t":62.25,"ty":0.108,"tx":-0.173,"dh":27.9,"dp":17,"n1":43.82,"n2":4.834,"lo":-0.011,"hi":0.011},
{"t":62.5,"ty":0.173,"tx":-0.108,"dh":28.4,"dp":27,"n1":43.95,"n2":4.838,"sg":1.1,"hc":20.543,"lo":-0.01,"hi":0.012},
{"t":62.75,"ty":0.143,"tx":-0.153,"dh":27.6,"dp":17,"n1":43.8,"n2":4.835,"lo":-0.012,"hi":0.01},
{"t":63,"ty":0.173,"tx":-0.133,"dh":29.3,"dp":23,"n1":43.95,"n2":4.839,"sg":2.4,"hc":20.546,"lo":-0.011,"hi":0.012},
{"t":63.25,"ty":0.143,"tx":-0.173,"dh":27.9,"dp":20,"n1":43.83,"n2":4.838,"lo":-0.013,"hi":0.011},
{"t":63.5,"ty":0.178,"tx":-0.093,"dh":28.5,"dp":24,"n1":43.87,"n2":4.843,"sg":1.6,"hc":20.543,"lo":-0.011,"hi":0.013},
{"t":63.75,"ty":0.108,"tx":-0.183,"dh":27.0,"dp":17,"n1":43.83,"n2":4.838,"lo":-0.01,"hi":0.011},
{"t":64,"ty":0.167,"tx":-0.104,"dh":29.2,"dp":22,"n1":43.93,"n2":4.842,"sg":2.6,"hc":20.539,"lo":-0.012,"hi":0.012},
{"t":64.25,"ty":0.122,"tx":-0.169,"dh":27.9,"dp":17,"n1":43.63,"n2":4.84,"lo":-0.011,"hi":0.01},
{"t":64.5,"ty":0.177,"tx":-0.124,"dh":29.9,"dp":24,"n1":43.91,"n2":4.843,"sg":1.7,"hc":20.535,"lo":-0.013,"hi":0.012},
{"t":64.75,"ty":0.132,"tx":-0.174,"dh":27.9,"dp":18,"n1":43.84,"n2":4.839,"lo":-0.011,"hi":0.011},
{"t":65,"ty":0.178,"tx":-0.134,"dh":28.8,"dp":22,"n1":43.88,"n2":4.844,"sg":2.3,"hc":20.529,"lo":-0.01,"hi":0.013},
{"t":65.25,"ty":0.118,"tx":-0.159,"dh":27.7,"dp":19,"n1":43.75,"n2":4.842,"lo":-0.012,"hi":0.011},
{"t":65.5,"ty":0.198,"tx":-0.119,"dh":29.6,"dp":23,"n1":43.9,"n2":4.845,"sg":1.5,"hc":20.523,"lo":-0.011,"hi":0.016},
{"t":65.75,"ty":0.123,"tx":-0.174,"dh":27.9,"dp":17,"n1":43.83,"n2":4.844,"lo":-0.013,"hi":0.01},
{"t":66,"ty":0.199,"tx":-0.125,"dh":28.8,"dp":23,"n1":43.87,"n2":4.847,"sg":2.2,"hc":20.516,"lo":-0.011,"hi":0.012},
{"t":66.25,"ty":0.134,"tx":-0.165,"dh":28.1,"dp":19,"n1":43.83,"n2":4.851,"lo":-0.01,"hi":0.011},
{"t":66.5,"ty":0.169,"tx":-0.12,"dh":29.1,"dp":22,"n1":43.94,"n2":4.848,"sg":1.4,"hc":20.512,"lo":-0.012,"hi":0.013},
{"t":66.75,"ty":0.134,"tx":-0.16,"dh":27.3,"dp":18,"n1":43.85,"n2":4.845,"lo":-0.011,"hi":0.011},
{"t":67,"ty":0.189,"tx":-0.126,"dh":28.6,"dp":24,"n1":43.88,"n2":4.848,"sg":2.3,"hc":20.506,"lo":-0.013,"hi":0.012},
{"t":67.25,"ty":0.134,"tx":-0.151,"dh":27.6,"dp":18,"n1":43.72,"n2":4.842,"lo":-0.011,"hi":0.01},
{"t":67.5,"ty":0.184,"tx":-0.131,"dh":28.8,"dp":25,"n1":43.9,"n2":4.848,"sg":1.5,"hc":20.502,"lo":-0.017,"hi":0.012},
{"t":67.75,"ty":0.139,"tx":-0.171,"dh":28.1,"dp":20,"n1":43.76,"n2":4.846,"lo":-0.012,"hi":0.011},
{"t":68,"ty":0.183,"tx":-0.137,"dh":29.0,"dp":27,"n1":43.92,"n2":4.848,"sg":2.4,"hc":20.496,"lo":-0.011,"hi":0.013},
{"t":68.25,"ty":0.133,"tx":-0.172,"dh":27.9,"dp":19,"n1":43.83,"n2":4.844,"lo":-0.013,"hi":0.012},
{"t":68.5,"ty":0.173,"tx":-0.112,"dh":29.3,"dp":25,"n1":43.88,"n2":4.846,"sg":1.6,"hc":20.493,"lo":-0.011,"hi":0.017},
{"t":68.75,"ty":0.133,"tx":-0.187,"dh":27.6,"dp":18,"n1":43.84,"n2":4.842,"lo":-0.01,"hi":0.011},
{"t":69,"ty":0.188,"tx":-0.108,"dh":28.7,"dp":11,"n1":43.87,"n2":4.846,"sg":2.0,"hc":20.491,"lo":-0.012,"hi":0.012},
{"t":69.25,"ty":0.133,"tx":-0.158,"dh":28.1,"dp":18,"n1":43.65,"n2":4.841,"lo":-0.011,"hi":0.01},
{"t":69.5,"ty":0.168,"tx":-0.133,"dh":29.3,"dp":22,"n1":43.92,"n2":4.845,"sg":1.2,"hc":20.488,"lo":-0.013,"hi":0.013},
{"t":69.75,"ty":0.123,"tx":-0.163,"dh":27.0,"dp":15,"n1":43.8,"n2":4.843,"lo":-0.011,"hi":0.011},
{"t":70,"ty":0.198,"tx":-0.108,"dh":29.5,"dp":24,"n1":44.0,"n2":4.845,"sg":0.8,"hc":20.486,"lo":-0.01,"hi":0.017},
{"t":70.25,"ty":0.128,"tx":-0.148,"dh":27.2,"dp":18,"n1":43.79,"n2":4.842,"lo":-0.012,"hi":0.011},
{"t":70.5,"ty":0.158,"tx":-0.108,"dh":28.9,"dp":22,"n1":43.91,"n2":4.845,"sg":-0.2,"hc":20.482,"lo":-0.011,"hi":0.013},
{"t":70.75,"ty":0.138,"tx":-0.173,"dh":27.8,"dp":18,"n1":43.81,"n2":4.841,"lo":-0.013,"hi":0.011},
{"t":71,"ty":0.188,"tx":-0.119,"dh":29.2,"dp":25,"n1":43.93,"n2":4.843,"sg":0.1,"hc":20.479,"lo":-0.011,"hi":0.012},
{"t":71.25,"ty":0.118,"tx":-0.154,"dh":28.0,"dp":19,"n1":43.83,"n2":4.842,"lo":-0.012,"hi":0.01},
{"t":71.5,"ty":0.173,"tx":-0.124,"dh":28.7,"dp":23,"n1":43.89,"n2":4.845,"sg":-0.7,"hc":20.477,"lo":-0.011,"hi":0.012},
{"t":71.75,"ty":0.143,"tx":-0.159,"dh":27.7,"dp":19,"n1":43.72,"n2":4.84,"lo":-0.013,"hi":0.011},
{"t":72,"ty":0.165,"tx":-0.13,"dh":28.4,"dp":22,"n1":43.91,"n2":4.843,"sg":-0.6,"hc":20.475,"lo":-0.008,"hi":0.009}
],
"s":[
{"t":0,"tys":0.139,"txs":-0.168,"sgs":3.0,"ap":18.4},
{"t":1,"tys":0.14,"txs":-0.168,"sgs":2.9,"ap":18.3},
{"t":2,"tys":0.141,"txs":-0.167,"sgs":2.8,"ap":18.25},
{"t":3,"tys":0.14,"txs":-0.167,"sgs":3.0,"ap":18.3},
{"t":4,"tys":0.142,"txs":-0.166,"sgs":3.2,"ap":18.4},
{"t":5,"tys":0.143,"txs":-0.165,"sgs":3.3,"ap":18.5},
{"t":6,"tys":0.144,"txs":-0.164,"sgs":3.3,"ap":18.6},
{"t":7,"tys":0.146,"txs":-0.163,"sgs":3.4,"ap":18.8},
{"t":8,"tys":0.147,"txs":-0.162,"sgs":3.5,"ap":19.1},
{"t":9,"tys":0.149,"txs":-0.161,"sgs":3.6,"ap":19.4},
{"t":10,"tys":0.15,"txs":-0.159,"sgs":3.6,"ap":19.5},
{"t":11,"tys":0.151,"txs":-0.158,"sgs":3.4,"ap":19.4},
{"t":12,"tys":0.153,"txs":-0.157,"sgs":3.3,"ap":19.0},
{"t":13,"tys":0.154,"txs":-0.154,"sgs":2.8,"ap":18.5},
{"t":14,"tys":0.155,"txs":-0.151,"sgs":2.3,"ap":18.1},
{"t":15,"tys":0.156,"txs":-0.149,"sgs":2.1,"ap":17.75},
{"t":16,"tys":0.158,"txs":-0.147,"sgs":1.8,"ap":17.4},
{"t":17,"tys":0.159,"txs":-0.145,"sgs":1.0,"ap":17.1},
{"t":18,"tys":0.16,"txs":-0.145,"sgs":0.2,"ap":16.9},
{"t":19,"tys":0.159,"txs":-0.146,"sgs":-0.1,"ap":16.9},
{"t":20,"tys":0.157,"txs":-0.148,"sgs":-0.1,"ap":16.9},
{"t":21,"tys":0.155,"txs":-0.15,"sgs":-0.3,"ap":16.85},
{"t":22,"tys":0.152,"txs":-0.152,"sgs":-0.8,"ap":16.9},
{"t":23,"tys":0.15,"txs":-0.154,"sgs":-1.1,"ap":16.8},
{"t":24,"tys":0.148,"txs":-0.155,"sgs":-0.8,"ap":16.7},
{"t":25,"tys":0.147,"txs":-0.156,"sgs":-0.5,"ap":16.6},
{"t":26,"tys":0.146,"txs":-0.158,"sgs":-0.4,"ap":16.5},
{"t":27,"tys":0.147,"txs":-0.161,"sgs":0.0,"ap":16.3},
{"t":28,"tys":0.146,"txs":-0.164,"sgs":0.4,"ap":16.1},
{"t":29,"tys":0.147,"txs":-0.166,"sgs":0.8,"ap":16.3},
{"t":30,"tys":0.147,"txs":-0.164,"sgs":0.7,"ap":16.4},
{"t":31,"tys":0.148,"txs":-0.16,"sgs":0.4,"ap":16.2},
{"t":32,"tys":0.15,"txs":-0.155,"sgs":0.3,"ap":15.9},
{"t":33,"tys":0.151,"txs":-0.15,"sgs":0.5,"ap":16.0},
{"t":34,"tys":0.153,"txs":-0.146,"sgs":0.2,"ap":15.7},
{"t":35,"tys":0.155,"txs":-0.142,"sgs":0.0,"ap":15.1},
{"t":36,"tys":0.156,"txs":-0.14,"sgs":-0.2,"ap":14.8},
{"t":37,"tys":0.158,"txs":-0.139,"sgs":-0.3,"ap":14.5},
{"t":38,"tys":0.159,"txs":-0.138,"sgs":-0.4,"ap":14.0},
{"t":39,"tys":0.16,"txs":-0.137,"sgs":-0.5,"ap":13.5},
{"t":40,"tys":0.161,"txs":-0.136,"sgs":-0.7,"ap":13.1},
{"t":41,"tys":0.162,"txs":-0.135,"sgs":-1.0,"ap":12.8},
{"t":42,"tys":0.163,"txs":-0.135,"sgs":-1.3,"ap":12.6},
{"t":43,"tys":0.162,"txs":-0.136,"sgs":-1.6,"ap":12.6},
{"t":44,"tys":0.161,"txs":-0.137,"sgs":-2.0,"ap":12.6},
{"t":45,"tys":0.16,"txs":-0.139,"sgs":-2.5,"ap":12.3},
{"t":46,"tys":0.16,"txs":-0.14,"sgs":-3.2,"ap":12.0},
{"t":47,"tys":0.159,"txs":-0.142,"sgs":-4.3,"ap":11.6},
{"t":48,"tys":0.158,"txs":-0.144,"sgs":-4.3,"ap":11.0},
{"t":49,"tys":0.158,"txs":-0.146,"sgs":-3.7,"ap":10.3},
{"t":49.8,"tys":0.157,"txs":-0.147,"sgs":-3.8,"ap":9.8},
{"t":50.2,"tys":0.157,"txs":-0.148,"sgs":-4.0,"ap":10.4},
{"t":50.7,"tys":0.15,"txs":-0.149,"sgs":-4.8,"ap":11.4},
{"t":51,"tys":0.142,"txs":-0.15,"sgs":-4.5,"ap":11.0},
{"t":51.5,"tys":0.146,"txs":-0.15,"sgs":-4.0,"ap":10.4},
{"t":52,"tys":0.149,"txs":-0.148,"sgs":-3.5,"ap":9.9},
{"t":53,"tys":0.151,"txs":-0.144,"sgs":-2.7,"ap":8.9},
{"t":54,"tys":0.152,"txs":-0.141,"sgs":-2.2,"ap":8.0},
{"t":55,"tys":0.153,"txs":-0.14,"sgs":-1.8,"ap":7.3},
{"t":55.4,"tys":0.153,"txs":-0.14,"sgs":-1.6,"ap":7.8},
{"t":56,"tys":0.153,"txs":-0.139,"sgs":-1.3,"ap":7.6},
{"t":57,"tys":0.153,"txs":-0.139,"sgs":-0.8,"ap":7.5},
{"t":58,"tys":0.153,"txs":-0.138,"sgs":-0.4,"ap":7.3},
{"t":59,"tys":0.153,"txs":-0.138,"sgs":0.0,"ap":7.05},
{"t":60,"tys":0.154,"txs":-0.138,"sgs":0.4,"ap":7.3},
{"t":60.6,"tys":0.154,"txs":-0.138,"sgs":0.7,"ap":7.5},
{"t":61,"tys":0.154,"txs":-0.138,"sgs":0.9,"ap":7.3},
{"t":62,"tys":0.153,"txs":-0.138,"sgs":1.5,"ap":7.05},
{"t":63,"tys":0.153,"txs":-0.138,"sgs":2.0,"ap":7.1},
{"t":64,"tys":0.152,"txs":-0.139,"sgs":2.1,"ap":7.4},
{"t":65,"tys":0.153,"txs":-0.139,"sgs":1.9,"ap":7.6},
{"t":66,"tys":0.154,"txs":-0.14,"sgs":1.8,"ap":8.0},
{"t":67,"tys":0.154,"txs":-0.141,"sgs":1.9,"ap":8.5},
{"t":68,"tys":0.153,"txs":-0.142,"sgs":2.0,"ap":8.9},
{"t":69,"tys":0.153,"txs":-0.143,"sgs":1.6,"ap":9.1},
{"t":70,"tys":0.153,"txs":-0.143,"sgs":0.3,"ap":9.3},
{"t":71,"tys":0.153,"txs":-0.144,"sgs":-0.3,"ap":9.5},
{"t":72,"tys":0.153,"txs":-0.145,"sgs":-0.6,"ap":9.35}
],
"g":[
{"t":50.88,"ty":0.295},{"t":50.881,"ty":0.275},{"t":50.882,"ty":0.255},{"t":50.883,"ty":0.235},{"t":50.884,"ty":0.215},{"t":50.885,"ty":0.1},{"t":50.886,"ty":-0.11},{"t":50.887,"ty":-0.16},
{"t":50.9,"tx":0.07},{"t":50.901,"tx":0.0},{"t":50.902,"tx":-0.03},{"t":50.903,"tx":-0.1},{"t":50.904,"tx":-0.2},{"t":50.905,"tx":-0.24},{"t":50.906,"tx":-0.27},{"t":50.907,"tx":-0.29}
]
},
"vconcat":[
{"width":864,"height":187,
"resolve":{"scale":{"y":"independent"},"axis":{"x":"independent","y":"independent"}},
"layer":[
{"data":{"name":"n"},"mark":{"type":"line","color":"#ff0000","strokeWidth":4.5,"strokeJoin":"round","clip":true,"invalid":"filter"},"encoding":{"x":{"field":"t","type":"quantitative","scale":{"domain":[0,80],"nice":false},"axis":null},"y":{"field":"ty","type":"quantitative","scale":{"domain":[-0.3,0.3],"nice":false,"zero":false},"axis":null}}},
{"data":{"name":"s"},"mark":{"type":"line","color":"#ffffff","strokeWidth":2,"clip":true},"encoding":{"x":{"field":"t","type":"quantitative","scale":{"domain":[0,80],"nice":false},"axis":null},"y":{"field":"tys","type":"quantitative","scale":{"domain":[-0.3,0.3],"nice":false,"zero":false},"axis":null}}},
{"data":{"name":"n"},"mark":{"type":"line","color":"#000000","strokeWidth":4.5,"strokeJoin":"round","clip":true,"invalid":"filter"},"encoding":{"x":{"field":"t","type":"quantitative","scale":{"domain":[0,80],"nice":false},"axis":null},"y":{"field":"tx","type":"quantitative","scale":{"domain":[-0.3,0.3],"nice":false,"zero":false},"axis":null}}},
{"data":{"name":"s"},"mark":{"type":"line","color":"#ffffff","strokeWidth":2,"clip":true},"encoding":{"x":{"field":"t","type":"quantitative","scale":{"domain":[0,80],"nice":false},"axis":null},"y":{"field":"txs","type":"quantitative","scale":{"domain":[-0.3,0.3],"nice":false,"zero":false},"axis":null}}},
{"data":{"name":"g"},"mark":{"type":"line","color":"#000000","strokeWidth":1.2,"clip":true,"invalid":"filter","point":{"filled":true,"size":14,"color":"#000000"}},"encoding":{"x":{"field":"t","type":"quantitative","scale":{"domain":[0,80],"nice":false},"axis":null},"y":{"field":"tx","type":"quantitative","scale":{"domain":[-0.3,0.3],"nice":false,"zero":false},"axis":null}}},
{"data":{"name":"g"},"mark":{"type":"point","filled":true,"size":14,"color":"#ff0000","opacity":1,"clip":true,"invalid":"filter"},"encoding":{"x":{"field":"t","type":"quantitative","scale":{"domain":[0,80],"nice":false},"axis":null},"y":{"field":"ty","type":"quantitative","scale":{"domain":[-0.3,0.3],"nice":false,"zero":false},"axis":null}}},
{"data":{"name":"n"},"mark":{"type":"line","color":"#a2c8d6","strokeWidth":3.5,"strokeJoin":"round","clip":true,"invalid":"filter"},"encoding":{"x":{"field":"t","type":"quantitative","scale":{"domain":[0,80],"nice":false},"axis":null},"y":{"field":"sg","type":"quantitative","scale":{"domain":[-25,25],"nice":false,"zero":false},"axis":null}}},
{"data":{"name":"s"},"mark":{"type":"line","color":"#1515a0","strokeWidth":1.6,"clip":true},"encoding":{"x":{"field":"t","type":"quantitative","scale":{"domain":[0,80],"nice":false},"axis":null},"y":{"field":"sgs","type":"quantitative","scale":{"domain":[-25,25],"nice":false,"zero":false},"axis":null}}},
{"data":{"values":[{}]},"mark":{"type":"text","text":"260803","align":"left","baseline":"top","dy":6,"fontSize":23,"color":"#000000"},"encoding":{"x":{"datum":0.45,"type":"quantitative","scale":{"domain":[0,80],"nice":false},"axis":null},"y":{"datum":0.3,"type":"quantitative","scale":{"domain":[-0.3,0.3],"nice":false,"zero":false},"axis":null}}},
{"data":{"values":[{}]},"mark":{"type":"text","text":"TX−Pwr","align":"right","baseline":"top","dy":6,"fontSize":23,"color":"#000000"},"encoding":{"x":{"datum":39.7,"type":"quantitative","scale":{"domain":[0,80],"nice":false},"axis":null},"y":{"datum":0.3,"type":"quantitative","scale":{"domain":[-0.3,0.3],"nice":false,"zero":false},"axis":null}}},
{"data":{"values":[{}]},"mark":{"type":"text","text":"TY−Pwr","align":"left","baseline":"top","dy":6,"fontSize":23,"color":"#ff0000"},"encoding":{"x":{"datum":40.6,"type":"quantitative","scale":{"domain":[0,80],"nice":false},"axis":null},"y":{"datum":0.3,"type":"quantitative","scale":{"domain":[-0.3,0.3],"nice":false,"zero":false},"axis":null}}},
{"data":{"values":[{}]},"mark":{"type":"text","text":"SG−Baro Resid.","align":"right","baseline":"top","dy":6,"fontSize":23,"color":"#0000c8"},"encoding":{"x":{"datum":79.4,"type":"quantitative","scale":{"domain":[0,80],"nice":false},"axis":null},"y":{"datum":0.3,"type":"quantitative","scale":{"domain":[-0.3,0.3],"nice":false,"zero":false},"axis":null}}},
{"data":{"values":[{}]},"mark":{"type":"text","text":""},"encoding":{"x":{"datum":0,"type":"quantitative","scale":{"domain":[0,80],"nice":false},"axis":{"orient":"bottom","tickCount":8,"labels":false,"tickSize":10,"title":null}},"y":{"datum":0,"type":"quantitative","scale":{"domain":[-0.3,0.3],"nice":false,"zero":false},"axis":{"orient":"left","values":[-0.3,-0.2,-0.1,0,0.1,0.2,0.3],"format":".1f","tickSize":10,"labelPadding":13,"title":"Signal [V]","titlePadding":22}}}},
{"data":{"values":[{}]},"mark":{"type":"text","text":""},"encoding":{"x":{"datum":0,"type":"quantitative","scale":{"domain":[0,80],"nice":false},"axis":{"orient":"top","tickCount":8,"labels":true,"labelPadding":8,"tickSize":10,"title":null}},"y":{"datum":0,"type":"quantitative","scale":{"domain":[-25,25],"nice":false,"zero":false},"axis":{"orient":"right","values":[-20,-10,0,10,20],"format":"d","tickSize":10,"labelAlign":"right","labelPadding":53,"title":"gbr [nm/s²]","titleColor":"#0000c8","titleAngle":270,"titleBaseline":"top","titlePadding":31}}}},
{"data":{"values":[{}]},"mark":{"type":"text","text":""},"encoding":{"x":{"datum":0,"type":"quantitative","scale":{"domain":[0,80],"nice":false},"axis":{"orient":"bottom","tickCount":80,"labels":false,"tickSize":5,"title":null}},"y":{"datum":0,"type":"quantitative","scale":{"domain":[-0.3,0.3],"nice":false,"zero":false},"axis":{"orient":"left","tickCount":30,"labels":false,"tickSize":5,"title":null}}}},
{"data":{"values":[{}]},"mark":{"type":"text","text":""},"encoding":{"x":{"datum":0,"type":"quantitative","scale":{"domain":[0,80],"nice":false},"axis":{"orient":"top","tickCount":80,"labels":false,"tickSize":5,"title":null}},"y":{"datum":0,"type":"quantitative","scale":{"domain":[-25,25],"nice":false,"zero":false},"axis":{"orient":"right","tickCount":25,"labels":false,"tickSize":5,"title":null}}}}
]},
{"width":864,"height":187,
"resolve":{"scale":{"y":"independent"},"axis":{"x":"independent","y":"independent"}},
"layer":[
{"data":{"name":"n"},"mark":{"type":"line","color":"#5f5f5f","strokeWidth":1.5,"clip":true,"invalid":"filter"},"encoding":{"x":{"field":"t","type":"quantitative","scale":{"domain":[0,80],"nice":false},"axis":null},"y":{"field":"dh","type":"quantitative","scale":{"domain":[25,31],"nice":false,"zero":false},"axis":null}}},
{"data":{"values":[{"t":50.9,"v":0},{"t":50.9,"v":1.73}]},"mark":{"type":"line","color":"#0000c8","strokeWidth":8,"clip":true},"encoding":{"x":{"field":"t","type":"quantitative","scale":{"domain":[0,80],"nice":false},"axis":null},"y":{"field":"v","type":"quantitative","scale":{"domain":[-0.2,0.5],"nice":false,"zero":false},"axis":null}}},
{"data":{"values":[{"t":50.9,"v":0}]},"mark":{"type":"tick","orient":"horizontal","color":"#000000","size":16,"thickness":1.5},"encoding":{"x":{"field":"t","type":"quantitative","scale":{"domain":[0,80],"nice":false},"axis":null},"y":{"field":"v","type":"quantitative","scale":{"domain":[-0.2,0.5],"nice":false,"zero":false},"axis":null}}},
{"data":{"values":[{}]},"mark":{"type":"text","text":"91.185","align":"left","baseline":"top","dy":6,"fontSize":23,"color":"#0000c8"},"encoding":{"x":{"datum":1.4,"type":"quantitative","scale":{"domain":[0,80],"nice":false},"axis":null},"y":{"datum":31,"type":"quantitative","scale":{"domain":[25,31],"nice":false,"zero":false},"axis":null}}},
{"data":{"values":[{}]},"mark":{"type":"text","text":"Dwr−Htr","align":"right","baseline":"top","dy":6,"fontSize":23,"color":"#000000"},"encoding":{"x":{"datum":39.4,"type":"quantitative","scale":{"domain":[0,80],"nice":false},"axis":null},"y":{"datum":31,"type":"quantitative","scale":{"domain":[25,31],"nice":false,"zero":false},"axis":null}}},
{"data":{"values":[{}]},"mark":{"type":"text","text":"LHe−Lvl","align":"left","baseline":"top","dy":6,"fontSize":23,"color":"#0000c8"},"encoding":{"x":{"datum":40.6,"type":"quantitative","scale":{"domain":[0,80],"nice":false},"axis":null},"y":{"datum":31,"type":"quantitative","scale":{"domain":[25,31],"nice":false,"zero":false},"axis":null}}},
{"data":{"values":[{}]},"mark":{"type":"text","text":"91.343","align":"right","baseline":"top","dy":6,"fontSize":23,"color":"#0000c8"},"encoding":{"x":{"datum":78.6,"type":"quantitative","scale":{"domain":[0,80],"nice":false},"axis":null},"y":{"datum":31,"type":"quantitative","scale":{"domain":[25,31],"nice":false,"zero":false},"axis":null}}},
{"data":{"values":[{}]},"mark":{"type":"text","text":""},"encoding":{"x":{"datum":0,"type":"quantitative","scale":{"domain":[0,80],"nice":false},"axis":{"orient":"bottom","tickCount":8,"labels":false,"tickSize":10,"title":null}},"y":{"datum":26,"type":"quantitative","scale":{"domain":[25,31],"nice":false,"zero":false},"axis":{"orient":"left","values":[25,27.5,30],"format":".1f","tickSize":10,"labelPadding":13,"title":"Signal [mA]","titlePadding":22}}}},
{"data":{"values":[{}]},"mark":{"type":"text","text":""},"encoding":{"x":{"datum":0,"type":"quantitative","scale":{"domain":[0,80],"nice":false},"axis":{"orient":"top","tickCount":8,"labels":false,"tickSize":10,"title":null}},"y":{"datum":0,"type":"quantitative","scale":{"domain":[-0.2,0.5],"nice":false,"zero":false},"axis":{"orient":"right","values":[0,0.2,0.4],"format":".1f","tickSize":10,"labelAlign":"right","labelPadding":48,"title":"Δ LHe−Lvl [per mil]","titleAngle":270,"titleBaseline":"top","titlePadding":25}}}},
{"data":{"values":[{}]},"mark":{"type":"text","text":""},"encoding":{"x":{"datum":0,"type":"quantitative","scale":{"domain":[0,80],"nice":false},"axis":{"orient":"bottom","tickCount":80,"labels":false,"tickSize":5,"title":null}},"y":{"datum":26,"type":"quantitative","scale":{"domain":[25,31],"nice":false,"zero":false},"axis":{"orient":"left","tickCount":12,"labels":false,"tickSize":5,"title":null}}}},
{"data":{"values":[{}]},"mark":{"type":"text","text":""},"encoding":{"x":{"datum":0,"type":"quantitative","scale":{"domain":[0,80],"nice":false},"axis":{"orient":"top","tickCount":80,"labels":false,"tickSize":5,"title":null}},"y":{"datum":0,"type":"quantitative","scale":{"domain":[-0.2,0.5],"nice":false,"zero":false},"axis":{"orient":"right","tickCount":7,"labels":false,"tickSize":5,"title":null}}}}
]},
{"width":864,"height":187,
"resolve":{"scale":{"y":"independent"},"axis":{"x":"independent","y":"independent"}},
"layer":[
{"data":{"name":"n"},"mark":{"type":"line","color":"#5f5f5f","strokeWidth":1.5,"clip":true,"invalid":"filter"},"encoding":{"x":{"field":"t","type":"quantitative","scale":{"domain":[0,80],"nice":false},"axis":null},"y":{"field":"dp","type":"quantitative","scale":{"domain":[0,70],"nice":false,"zero":false},"axis":null}}},
{"data":{"values":[{}]},"mark":{"type":"rule","color":"#e06666","strokeWidth":1.5},"encoding":{"y":{"datum":24.2,"type":"quantitative","scale":{"domain":[0,70],"nice":false,"zero":false},"axis":null}}},
{"data":{"values":[{}]},"mark":{"type":"text","text":"Dewr−P","align":"center","baseline":"top","dy":6,"fontSize":23,"color":"#000000"},"encoding":{"x":{"datum":40,"type":"quantitative","scale":{"domain":[0,80],"nice":false},"axis":null},"y":{"datum":70,"type":"quantitative","scale":{"domain":[0,70],"nice":false,"zero":false},"axis":null}}},
{"data":{"values":[{}]},"mark":{"type":"text","text":""},"encoding":{"x":{"datum":0,"type":"quantitative","scale":{"domain":[0,80],"nice":false},"axis":{"orient":"bottom","tickCount":8,"labels":false,"tickSize":10,"title":null}},"y":{"datum":10,"type":"quantitative","scale":{"domain":[0,70],"nice":false,"zero":false},"axis":{"orient":"left","values":[0,20,40,60],"format":"d","tickSize":10,"labelPadding":13,"title":"Signal [Pa]","titlePadding":22}}}},
{"data":{"values":[{}]},"mark":{"type":"text","text":""},"encoding":{"x":{"datum":0,"type":"quantitative","scale":{"domain":[0,80],"nice":false},"axis":{"orient":"top","tickCount":8,"labels":false,"tickSize":10,"title":null}},"y":{"datum":10,"type":"quantitative","scale":{"domain":[0,70],"nice":false,"zero":false},"axis":{"orient":"right","values":[0,20,40,60],"labels":false,"tickSize":10,"title":null}}}},
{"data":{"values":[{}]},"mark":{"type":"text","text":""},"encoding":{"x":{"datum":0,"type":"quantitative","scale":{"domain":[0,80],"nice":false},"axis":{"orient":"bottom","tickCount":80,"labels":false,"tickSize":5,"title":null}},"y":{"datum":10,"type":"quantitative","scale":{"domain":[0,70],"nice":false,"zero":false},"axis":{"orient":"left","tickCount":7,"labels":false,"tickSize":5,"title":null}}}},
{"data":{"values":[{}]},"mark":{"type":"text","text":""},"encoding":{"x":{"datum":0,"type":"quantitative","scale":{"domain":[0,80],"nice":false},"axis":{"orient":"top","tickCount":80,"labels":false,"tickSize":5,"title":null}},"y":{"datum":10,"type":"quantitative","scale":{"domain":[0,70],"nice":false,"zero":false},"axis":{"orient":"right","tickCount":7,"labels":false,"tickSize":5,"title":null}}}}
]},
{"width":864,"height":187,
"resolve":{"scale":{"y":"independent"},"axis":{"x":"independent","y":"independent"}},
"layer":[
{"data":{"name":"n"},"mark":{"type":"line","color":"#5f5f5f","strokeWidth":1.4,"clip":true,"invalid":"filter"},"encoding":{"x":{"field":"t","type":"quantitative","scale":{"domain":[0,80],"nice":false},"axis":null},"y":{"field":"n2","type":"quantitative","scale":{"domain":[4.8,4.87],"nice":false,"zero":false},"axis":null}}},
{"data":{"values":[{}]},"mark":{"type":"text","text":"NeckT−2","align":"center","baseline":"top","dy":6,"fontSize":23,"color":"#000000"},"encoding":{"x":{"datum":40,"type":"quantitative","scale":{"domain":[0,80],"nice":false},"axis":null},"y":{"datum":4.87,"type":"quantitative","scale":{"domain":[4.8,4.87],"nice":false,"zero":false},"axis":null}}},
{"data":{"values":[{}]},"mark":{"type":"text","text":""},"encoding":{"x":{"datum":0,"type":"quantitative","scale":{"domain":[0,80],"nice":false},"axis":{"orient":"bottom","tickCount":8,"labels":false,"tickSize":10,"title":null}},"y":{"datum":4.82,"type":"quantitative","scale":{"domain":[4.8,4.87],"nice":false,"zero":false},"axis":{"orient":"left","values":[4.8,4.82,4.84,4.86],"format":".2f","tickSize":10,"labelPadding":13,"title":"Signal [K]","titlePadding":22}}}},
{"data":{"values":[{}]},"mark":{"type":"text","text":""},"encoding":{"x":{"datum":0,"type":"quantitative","scale":{"domain":[0,80],"nice":false},"axis":{"orient":"top","tickCount":8,"labels":false,"tickSize":10,"title":null}},"y":{"datum":4.82,"type":"quantitative","scale":{"domain":[4.8,4.87],"nice":false,"zero":false},"axis":{"orient":"right","values":[4.8,4.82,4.84,4.86],"labels":false,"tickSize":10,"title":null}}}},
{"data":{"values":[{}]},"mark":{"type":"text","text":""},"encoding":{"x":{"datum":0,"type":"quantitative","scale":{"domain":[0,80],"nice":false},"axis":{"orient":"bottom","tickCount":80,"labels":false,"tickSize":5,"title":null}},"y":{"datum":4.82,"type":"quantitative","scale":{"domain":[4.8,4.87],"nice":false,"zero":false},"axis":{"orient":"left","tickCount":7,"labels":false,"tickSize":5,"title":null}}}},
{"data":{"values":[{}]},"mark":{"type":"text","text":""},"encoding":{"x":{"datum":0,"type":"quantitative","scale":{"domain":[0,80],"nice":false},"axis":{"orient":"top","tickCount":80,"labels":false,"tickSize":5,"title":null}},"y":{"datum":4.82,"type":"quantitative","scale":{"domain":[4.8,4.87],"nice":false,"zero":false},"axis":{"orient":"right","tickCount":7,"labels":false,"tickSize":5,"title":null}}}}
]},
{"width":864,"height":187,
"resolve":{"scale":{"y":"independent"},"axis":{"x":"independent","y":"independent"}},
"layer":[
{"data":{"name":"n"},"mark":{"type":"line","color":"#5f5f5f","strokeWidth":1.3,"clip":true,"invalid":"filter"},"encoding":{"x":{"field":"t","type":"quantitative","scale":{"domain":[0,80],"nice":false},"axis":null},"y":{"field":"n1","type":"quantitative","scale":{"domain":[43.4,44.3],"nice":false,"zero":false},"axis":null}}},
{"data":{"values":[{}]},"mark":{"type":"text","text":"NeckT−1","align":"center","baseline":"top","dy":6,"fontSize":23,"color":"#000000"},"encoding":{"x":{"datum":40,"type":"quantitative","scale":{"domain":[0,80],"nice":false},"axis":null},"y":{"datum":44.3,"type":"quantitative","scale":{"domain":[43.4,44.3],"nice":false,"zero":false},"axis":null}}},
{"data":{"values":[{}]},"mark":{"type":"text","text":""},"encoding":{"x":{"datum":0,"type":"quantitative","scale":{"domain":[0,80],"nice":false},"axis":{"orient":"bottom","tickCount":8,"labels":false,"tickSize":10,"title":null}},"y":{"datum":43.8,"type":"quantitative","scale":{"domain":[43.4,44.3],"nice":false,"zero":false},"axis":{"orient":"left","values":[43.4,43.6,43.8,44.0,44.2],"format":".1f","tickSize":10,"labelPadding":13,"title":"Signal [K]","titlePadding":22}}}},
{"data":{"values":[{}]},"mark":{"type":"text","text":""},"encoding":{"x":{"datum":0,"type":"quantitative","scale":{"domain":[0,80],"nice":false},"axis":{"orient":"top","tickCount":8,"labels":false,"tickSize":10,"title":null}},"y":{"datum":43.8,"type":"quantitative","scale":{"domain":[43.4,44.3],"nice":false,"zero":false},"axis":{"orient":"right","values":[43.4,43.6,43.8,44.0,44.2],"labels":false,"tickSize":10,"title":null}}}},
{"data":{"values":[{}]},"mark":{"type":"text","text":""},"encoding":{"x":{"datum":0,"type":"quantitative","scale":{"domain":[0,80],"nice":false},"axis":{"orient":"bottom","tickCount":80,"labels":false,"tickSize":5,"title":null}},"y":{"datum":43.8,"type":"quantitative","scale":{"domain":[43.4,44.3],"nice":false,"zero":false},"axis":{"orient":"left","tickCount":9,"labels":false,"tickSize":5,"title":null}}}},
{"data":{"values":[{}]},"mark":{"type":"text","text":""},"encoding":{"x":{"datum":0,"type":"quantitative","scale":{"domain":[0,80],"nice":false},"axis":{"orient":"top","tickCount":80,"labels":false,"tickSize":5,"title":null}},"y":{"datum":43.8,"type":"quantitative","scale":{"domain":[43.4,44.3],"nice":false,"zero":false},"axis":{"orient":"right","tickCount":9,"labels":false,"tickSize":5,"title":null}}}}
]},
{"width":864,"height":187,
"resolve":{"scale":{"y":"independent"},"axis":{"x":"independent","y":"independent"}},
"layer":[
{"data":{"name":"n"},"mark":{"type":"area","color":"#5f5f5f","clip":true,"invalid":"filter"},"encoding":{"x":{"field":"t","type":"quantitative","scale":{"domain":[0,80],"nice":false},"axis":null},"y":{"field":"lo","type":"quantitative","scale":{"domain":[-0.04,0.03],"nice":false,"zero":false},"axis":null},"y2":{"field":"hi"}}},
{"data":{"values":[{}]},"mark":{"type":"text","text":"Tmp−Bal","align":"center","baseline":"top","dy":6,"fontSize":23,"color":"#000000"},"encoding":{"x":{"datum":40,"type":"quantitative","scale":{"domain":[0,80],"nice":false},"axis":null},"y":{"datum":0.03,"type":"quantitative","scale":{"domain":[-0.04,0.03],"nice":false,"zero":false},"axis":null}}},
{"data":{"values":[{}]},"mark":{"type":"text","text":""},"encoding":{"x":{"datum":0,"type":"quantitative","scale":{"domain":[0,80],"nice":false},"axis":{"orient":"bottom","tickCount":8,"labels":false,"tickSize":10,"title":null}},"y":{"datum":0,"type":"quantitative","scale":{"domain":[-0.04,0.03],"nice":false,"zero":false},"axis":{"orient":"left","values":[-0.04,-0.02,0,0.02],"format":".2f","tickSize":10,"labelPadding":13,"title":"Signal [V]","titlePadding":22}}}},
{"data":{"values":[{}]},"mark":{"type":"text","text":""},"encoding":{"x":{"datum":0,"type":"quantitative","scale":{"domain":[0,80],"nice":false},"axis":{"orient":"top","tickCount":8,"labels":false,"tickSize":10,"title":null}},"y":{"datum":0,"type":"quantitative","scale":{"domain":[-0.04,0.03],"nice":false,"zero":false},"axis":{"orient":"right","values":[-0.04,-0.02,0,0.02],"labels":false,"tickSize":10,"title":null}}}},
{"data":{"values":[{}]},"mark":{"type":"text","text":""},"encoding":{"x":{"datum":0,"type":"quantitative","scale":{"domain":[0,80],"nice":false},"axis":{"orient":"bottom","tickCount":80,"labels":false,"tickSize":5,"title":null}},"y":{"datum":0,"type":"quantitative","scale":{"domain":[-0.04,0.03],"nice":false,"zero":false},"axis":{"orient":"left","tickCount":7,"labels":false,"tickSize":5,"title":null}}}},
{"data":{"values":[{}]},"mark":{"type":"text","text":""},"encoding":{"x":{"datum":0,"type":"quantitative","scale":{"domain":[0,80],"nice":false},"axis":{"orient":"top","tickCount":80,"labels":false,"tickSize":5,"title":null}},"y":{"datum":0,"type":"quantitative","scale":{"domain":[-0.04,0.03],"nice":false,"zero":false},"axis":{"orient":"right","tickCount":7,"labels":false,"tickSize":5,"title":null}}}}
]},
{"width":864,"height":187,
"resolve":{"scale":{"y":"independent"},"axis":{"x":"independent","y":"independent"}},
"layer":[
{"data":{"name":"n"},"mark":{"type":"line","color":"#5f5f5f","strokeWidth":1.3,"clip":true,"invalid":"filter"},"encoding":{"x":{"field":"t","type":"quantitative","scale":{"domain":[0,80],"nice":false},"axis":null},"y":{"field":"hc","type":"quantitative","scale":{"domain":[20,20.7],"nice":false,"zero":false},"axis":null}}},
{"data":{"name":"s"},"mark":{"type":"line","color":"#0000c8","strokeWidth":1.5,"clip":true},"encoding":{"x":{"field":"t","type":"quantitative","scale":{"domain":[0,80],"nice":false},"axis":null},"y":{"field":"ap","type":"quantitative","scale":{"domain":[0,21.8],"nice":false,"zero":false},"axis":null}}},
{"data":{"values":[{}]},"mark":{"type":"text","text":"HtrCrnt","align":"center","baseline":"top","dy":6,"fontSize":23,"color":"#000000"},"encoding":{"x":{"datum":40,"type":"quantitative","scale":{"domain":[0,80],"nice":false},"axis":null},"y":{"datum":20.7,"type":"quantitative","scale":{"domain":[20,20.7],"nice":false,"zero":false},"axis":null}}},
{"data":{"values":[{}]},"mark":{"type":"text","text":"Air pressure","align":"right","baseline":"top","dy":6,"fontSize":23,"color":"#0000c8"},"encoding":{"x":{"datum":79.4,"type":"quantitative","scale":{"domain":[0,80],"nice":false},"axis":null},"y":{"datum":20.7,"type":"quantitative","scale":{"domain":[20,20.7],"nice":false,"zero":false},"axis":null}}},
{"data":{"values":[{}]},"mark":{"type":"text","text":""},"encoding":{"x":{"datum":0,"type":"quantitative","scale":{"domain":[0,80],"nice":false},"axis":{"orient":"bottom","tickCount":8,"labels":true,"labelPadding":13,"tickSize":10,"title":"Time [h]","titlePadding":22,"titleFontSize":27}},"y":{"datum":20.2,"type":"quantitative","scale":{"domain":[20,20.7],"nice":false,"zero":false},"axis":{"orient":"left","values":[20,20.2,20.4,20.6],"format":".1f","tickSize":10,"labelPadding":13,"title":"Signal [mA]","titlePadding":22}}}},
{"data":{"values":[{}]},"mark":{"type":"text","text":""},"encoding":{"x":{"datum":0,"type":"quantitative","scale":{"domain":[0,80],"nice":false},"axis":{"orient":"top","tickCount":8,"labels":false,"tickSize":10,"title":null}},"y":{"datum":10,"type":"quantitative","scale":{"domain":[0,21.8],"nice":false,"zero":false},"axis":{"orient":"right","values":[0,10,20],"format":"d","tickSize":10,"labelAlign":"right","labelPadding":41,"title":"P−1000 [hPa]","titleColor":"#0000c8","titleAngle":270,"titleBaseline":"top","titlePadding":25}}}},
{"data":{"values":[{}]},"mark":{"type":"text","text":""},"encoding":{"x":{"datum":0,"type":"quantitative","scale":{"domain":[0,80],"nice":false},"axis":{"orient":"bottom","tickCount":80,"labels":false,"tickSize":5,"title":"2026−08−03","titleX":-77,"titleY":68,"titleAlign":"left","titleAnchor":"start","titleBaseline":"top","titleFontSize":27}},"y":{"datum":20.2,"type":"quantitative","scale":{"domain":[20,20.7],"nice":false,"zero":false},"axis":{"orient":"left","tickCount":7,"labels":false,"tickSize":5,"title":null}}}},
{"data":{"values":[{}]},"mark":{"type":"text","text":""},"encoding":{"x":{"datum":0,"type":"quantitative","scale":{"domain":[0,80],"nice":false},"axis":{"orient":"top","tickCount":80,"labels":false,"tickSize":5,"title":null}},"y":{"datum":10,"type":"quantitative","scale":{"domain":[0,21.8],"nice":false,"zero":false},"axis":{"orient":"right","tickCount":22,"labels":false,"tickSize":5,"title":null}}}}
]}
],
"config":{
"view":{"stroke":"#000000","strokeWidth":2},
"font":"Liberation Sans",
"axis":{"domain":false,"grid":false,"tickColor":"#000000","tickWidth":1.2,"labelFont":"Liberation Sans","labelFontSize":22,"labelColor":"#000000","labelFlush":false,"labelOverlap":false,"titleFont":"Liberation Sans","titleFontSize":27,"titleFontWeight":"normal","titleColor":"#000000"},
"text":{"font":"Liberation Sans","fontSize":23},
"mark":{"invalid":"filter"}
}
}
